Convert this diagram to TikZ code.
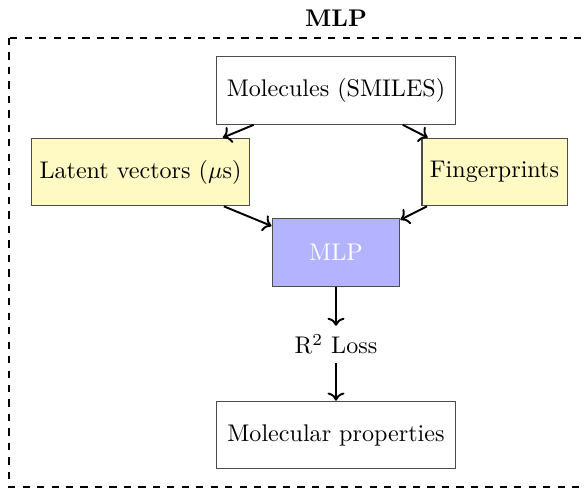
\documentclass[tikz,border=0pt]{standalone}
\usetikzlibrary{arrows.meta}
\definecolor{latentfill}{RGB}{255,249,196}
\definecolor{mlpfill}{RGB}{179,179,255}
\tikzset{
  box/.style={draw=black!70, line width=0.5pt, minimum height=28pt, inner sep=3.33pt},
  inputbox/.style={box, fill=latentfill},
  netbox/.style={box, fill=mlpfill, text=white, minimum width=53pt},
  endbox/.style={box, minimum width=99pt},
  flow/.style={->, thick},
  frame/.style={dashed, thick}
}
\begin{document}
\begin{tikzpicture}[x=0.415pt, y=-0.415pt]
  \useasboundingbox (0,0) rectangle (584,489);
  \clip (0,0) rectangle (584,489);
  % outer dashed frame and its heading
  \draw[frame] (9,38) rectangle (663,487);
  \node[font=\bfseries] (title) at (336,18) {MLP};
  % pipeline nodes
  \node[endbox] (mol) at (336,90.5) {Molecules (SMILES)};
  \node[inputbox] (lat) at (140.5,172) {Latent vectors ($\mu$s)};
  \node[inputbox] (fp) at (494.5,172) {Fingerprints};
  \node[netbox] (mlp) at (336,252.5) {MLP};
  \node[anchor=base, inner sep=3.33pt] (loss) at (336,354) {R$^2$ Loss};
  \node[endbox] (prop) at (336,435) {Molecular properties};
  % connectors
  \draw[flow] (mol) -- (lat);
  \draw[flow] (mol) -- (fp);
  \draw[flow] (lat) -- (mlp);
  \draw[flow] (fp) -- (mlp);
  \draw[flow] (mlp) -- (loss);
  \draw[flow] (loss) -- (prop);
\end{tikzpicture}
\end{document}
